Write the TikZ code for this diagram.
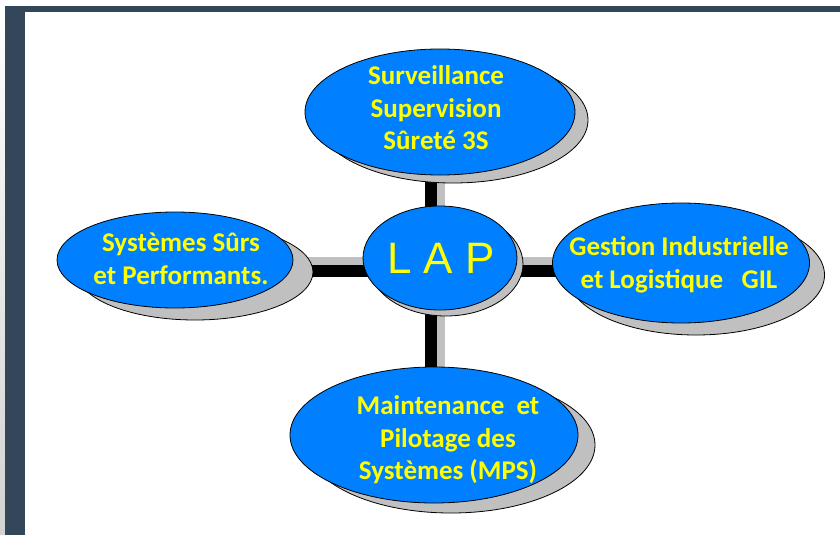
\documentclass[tikz,border=0pt]{standalone}
\usepackage{fontspec}
\setmainfont{Carlito}
\newfontfamily\lapfont{Liberation Sans}
\usetikzlibrary{shapes.geometric,shadows,backgrounds}
\definecolor{frameblue}{HTML}{34465A}
\definecolor{bubble}{HTML}{0080FF}
\definecolor{shadegray}{HTML}{C0C0C0}
\definecolor{txtyellow}{HTML}{FFFF00}
\tikzset{
  pole/.style={ellipse,draw=black,line width=0.8pt,fill=bubble,inner sep=0pt},
  poleshadow/.style 2 args={copy shadow={shadow xshift=#1,shadow yshift=#2,fill=shadegray,draw=black}},
  lbl/.style={text=txtyellow,font=\bfseries\fontsize{27}{32.5}\selectfont,align=center,inner sep=0pt},
  barblack/.style={line width=12pt,black},
  bargray/.style={line width=8pt,shadegray}
}
\begin{document}
\begin{tikzpicture}[x=1pt,y=-1pt,line join=round]
\useasboundingbox (0,0) rectangle (840,535);
% frame
\shade[top color=white,bottom color=gray!35] (0,12) rectangle (5,535);
\fill[frameblue] (5,6) rectangle (25,535);
\fill[frameblue] (5,6) rectangle (840,12);
% ellipses
\node[pole,poleshadow={13pt}{-8pt},minimum width=270,minimum height=126] (top) at (440,112) {};
\node[pole,poleshadow={20pt}{-12pt},minimum width=236,minimum height=96] (left) at (175,260) {};
\node[pole,poleshadow={15pt}{-12pt},minimum width=257,minimum height=120] (right) at (681,263) {};
\node[pole,poleshadow={17pt}{-10pt},minimum width=288,minimum height=136] (bottom) at (434,435) {};
\node[pole,poleshadow={6pt}{-6pt},minimum width=154,minimum height=104] (lap) at (440,258) {};
% bars behind
\coordinate (hgray) at (0,261);
\coordinate (hblack) at (0,271);
\coordinate (vgray) at (441,0);
\coordinate (vblack) at (431,0);
\begin{scope}[on background layer]
\draw[bargray] (left.center |- hgray) -- (right.center |- hgray);
\draw[barblack] (left.center |- hblack) -- (right.center |- hblack);
\draw[bargray] (top.center -| vgray) -- (bottom.center -| vgray);
\draw[barblack] (top.center -| vblack) -- (bottom.center -| vblack);
\end{scope}
% texts
\node[lbl] (toptxt) at (436,108) {Surveillance\\Supervision\\Sûreté 3S};
\node[lbl] (lefttxt) at (181,259) {Systèmes Sûrs\\et Performants.};
\node[lbl] (righttxt) at (679,265) {Gestion Industrielle\\et Logistique\ \ \ GIL};
\node[lbl] (bottomtxt) at (448,440) {Maintenance\ \ et\\Pilotage des\\Systèmes (MPS)};
\node[text=txtyellow,font=\lapfont\fontsize{44}{44}\selectfont,inner sep=0pt] (laptxt) at (441,258) {L A P};
\end{tikzpicture}
\end{document}
